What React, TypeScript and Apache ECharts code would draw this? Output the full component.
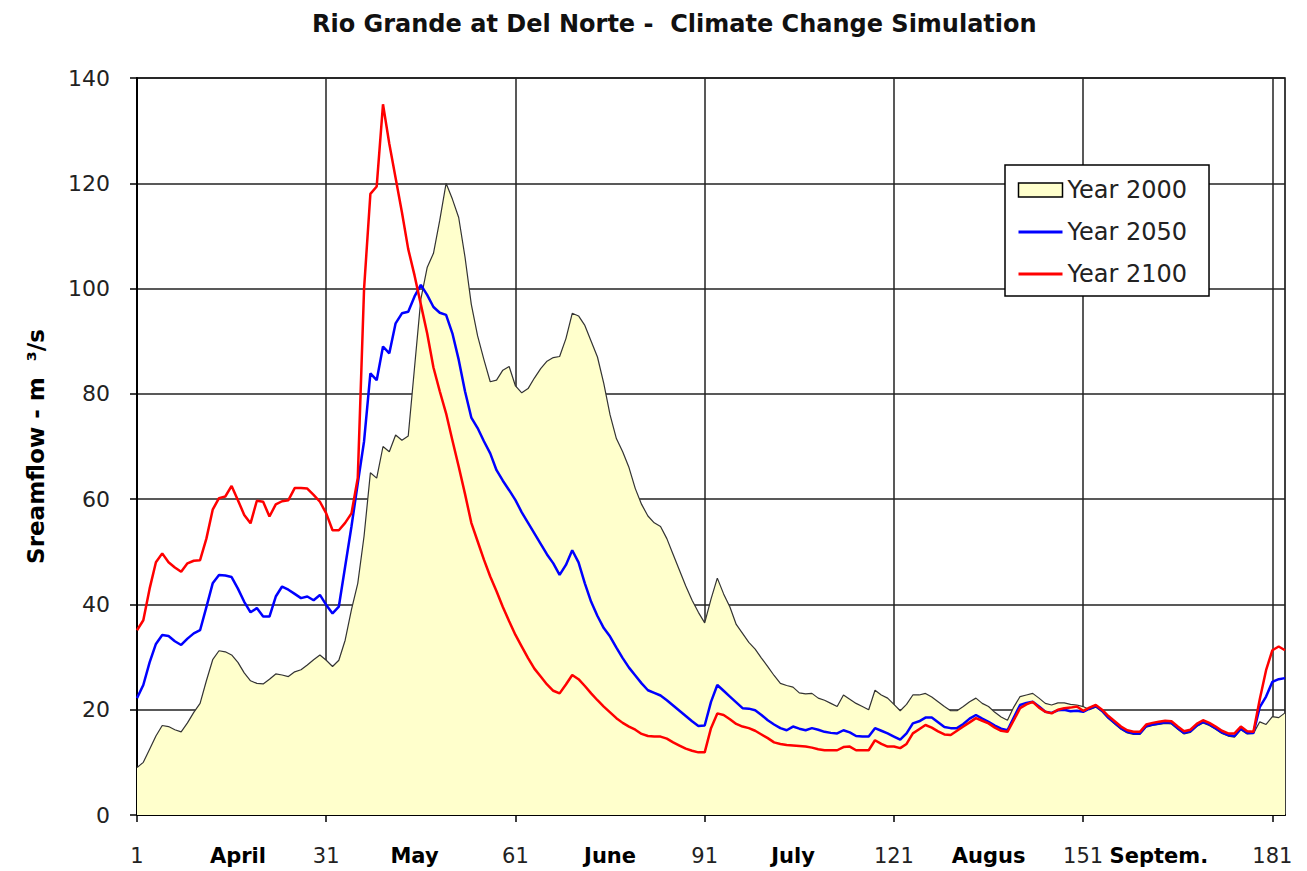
import React, { useEffect, useRef } from "react";
import * as echarts from "echarts";

const days: string[] = Array.from({ length: 183 }, (_, i) => String(i + 1));

const tickDays = [1, 31, 61, 91, 121, 151, 181];
const monthNames = ["April", "May", "June", "July", "Augus", "Septem."];
const monthDays = [17, 45, 76, 105, 136, 163];
const yTicks = { min: 0, max: 140, interval: 20 };

const year2000 = [
  9.0, 10.0, 12.5, 15.0, 17.0, 16.8, 16.2, 15.8, 17.5, 19.5,
  21.2, 25.5, 29.5, 31.2, 31.0, 30.4, 29.0, 27.0, 25.5, 25.0,
  24.9, 25.8, 26.8, 26.6, 26.3, 27.2, 27.6, 28.5, 29.5, 30.4,
  29.4, 28.2, 29.4, 33.2, 39.0, 44.0, 53.0, 65.0, 64.0, 70.0,
  69.0, 72.2, 71.2, 72.0, 85.0, 98.0, 104.0, 106.7, 113.0, 120.0,
  117.0, 113.5, 106.0, 97.0, 91.0, 86.5, 82.3, 82.6, 84.5, 85.2,
  81.5, 80.2, 81.0, 83.0, 84.8, 86.2, 86.9, 87.1, 90.5, 95.3,
  94.8, 93.0, 90.0, 87.0, 82.0, 76.0, 71.5, 69.0, 66.0, 62.0,
  59.0, 56.8, 55.5, 54.8, 52.5, 49.5, 46.5, 43.5, 40.8, 38.5,
  36.5, 41.0, 45.0, 42.0, 39.5, 36.2, 34.5, 32.8, 31.5, 29.8,
  28.2, 26.5, 25.0, 24.6, 24.3, 23.2, 23.0, 23.1, 22.2, 21.8,
  21.2, 20.6, 22.8, 22.0, 21.2, 20.6, 20.0, 23.7, 22.8, 22.2,
  21.0, 19.8, 21.0, 22.8, 22.8, 23.1, 22.4, 21.5, 20.6, 19.8,
  19.8, 20.6, 21.5, 22.2, 21.2, 20.6, 19.5, 18.6, 18.0, 20.5,
  22.5, 22.8, 23.1, 22.2, 21.2, 20.9, 21.3, 21.3, 21.0, 20.9,
  20.6, 20.0, 20.5, 19.6, 18.3, 17.3, 16.3, 15.6, 15.3, 15.3,
  16.7, 17.0, 17.2, 17.4, 17.3, 16.3, 15.4, 15.7, 16.8, 17.5,
  17.0, 16.3, 15.5, 15.0, 14.8, 16.2, 15.4, 15.5, 17.7, 17.2,
  18.7, 18.5, 19.4,
];

const year2050 = [
  22.2, 24.7, 29.0, 32.5, 34.2, 34.0, 33.0, 32.3, 33.5, 34.5,
  35.1, 39.5, 44.0, 45.6, 45.5, 45.2, 43.0, 40.5, 38.5, 39.3,
  37.7, 37.7, 41.5, 43.4, 42.8, 42.0, 41.2, 41.5, 40.8, 41.8,
  39.9, 38.3, 39.6, 47.2, 54.8, 63.0, 71.0, 83.9, 82.6, 89.0,
  87.7, 93.4, 95.3, 95.6, 98.5, 100.7, 98.8, 96.5, 95.4, 95.0,
  91.5, 86.5, 80.5, 75.5, 73.5, 71.0, 68.7, 65.5, 63.5, 61.7,
  59.8, 57.5, 55.5, 53.5, 51.5, 49.5, 47.8, 45.6, 47.5, 50.3,
  48.0, 44.0, 40.5, 37.8, 35.5, 33.9, 31.8, 29.8, 28.0, 26.5,
  25.0, 23.7, 23.2, 22.7, 21.8, 20.8, 19.8, 18.8, 17.8, 16.9,
  17.0, 21.5, 24.7, 23.6, 22.5, 21.4, 20.3, 20.2, 19.9, 19.0,
  18.0, 17.2, 16.5, 16.1, 16.8, 16.4, 16.1, 16.5, 16.2, 15.8,
  15.6, 15.5, 16.1, 15.7, 15.0, 14.9, 14.9, 16.5, 16.0, 15.5,
  14.9, 14.3, 15.5, 17.4, 17.8, 18.5, 18.5, 17.6, 16.7, 16.5,
  16.5, 17.3, 18.3, 19.0, 18.3, 17.7, 17.0, 16.4, 16.1, 18.5,
  20.9, 21.3, 21.5, 20.6, 19.6, 19.4, 19.9, 20.0, 19.7, 19.8,
  19.6, 20.2, 20.7, 19.8, 18.5, 17.5, 16.5, 15.8, 15.5, 15.5,
  16.9, 17.2, 17.4, 17.6, 17.5, 16.5, 15.6, 15.9, 17.0, 17.7,
  17.2, 16.5, 15.7, 15.2, 15.0, 16.4, 15.6, 15.6, 20.5, 22.5,
  25.3, 25.8, 26.0,
];

const year2100 = [
  35.1, 37.0, 43.0, 48.0, 49.7, 48.0, 47.0, 46.2, 47.8, 48.3,
  48.4, 52.5, 58.0, 60.2, 60.5, 62.5, 59.8, 57.0, 55.4, 59.7,
  59.5, 56.7, 59.0, 59.6, 59.8, 62.1, 62.1, 62.0, 60.8, 59.5,
  57.3, 54.1, 54.1, 55.5, 57.3, 64.0, 100.0, 118.0, 119.4, 135.0,
  127.5, 121.0, 114.5, 107.5, 102.5, 97.0, 91.5, 85.0, 80.5, 76.3,
  71.2, 66.2, 61.0, 55.5, 52.0, 48.5, 45.3, 42.5, 39.5, 36.8,
  34.2, 32.0, 29.8, 27.8, 26.3, 24.8, 23.6, 23.1, 24.8, 26.6,
  25.8, 24.5, 23.1, 21.8, 20.6, 19.5, 18.4, 17.5, 16.8, 16.2,
  15.4, 15.0, 14.9, 14.9, 14.5, 13.8, 13.2, 12.6, 12.2, 11.9,
  11.9, 16.5, 19.3, 19.0, 18.2, 17.3, 16.8, 16.5, 16.0, 15.3,
  14.6, 13.8, 13.5, 13.3, 13.2, 13.1, 13.0, 12.8, 12.5, 12.3,
  12.3, 12.3, 12.9, 13.0, 12.3, 12.3, 12.3, 14.2, 13.5, 13.0,
  13.0, 12.7, 13.5, 15.5, 16.3, 17.1, 16.6, 15.9, 15.3, 15.2,
  16.0, 16.8, 17.6, 18.4, 17.9, 17.4, 16.6, 16.0, 15.8, 18.0,
  20.3, 21.0, 21.5, 20.4, 19.6, 19.3, 20.0, 20.3, 20.4, 20.6,
  19.8, 20.4, 20.9, 20.0, 18.8, 17.8, 16.8, 16.1, 15.8, 15.8,
  17.2, 17.5, 17.7, 17.9, 17.8, 16.8, 15.9, 16.2, 17.3, 18.0,
  17.5, 16.8, 16.0, 15.5, 15.5, 16.8, 15.9, 15.8, 22.0, 27.5,
  31.3, 32.0, 31.3,
];

const FONT = "DejaVu Sans";

export default function App() {
  const ref = useRef<HTMLDivElement>(null);

  useEffect(() => {
    if (!ref.current) return;
    const chart = echarts.init(ref.current, null, { renderer: "svg" });
    const isTick = (v: any) => tickDays.includes(Number(v));
    const isMonth = (v: any) => monthDays.includes(Number(v));

    chart.setOption({
      animation: false,
      backgroundColor: "#ffffff",
      title: {
        text: "Rio Grande at Del Norte -  Climate Change Simulation",
        left: 307,
        top: 7,
        textStyle: { fontFamily: FONT, fontSize: 24, fontWeight: "bold", color: "#111" },
      },
      legend: {
        orient: "vertical",
        left: 1005,
        top: 165,
        padding: [13, 22, 10, 12],
        itemGap: 18,
        itemWidth: 44,
        itemHeight: 14,
        backgroundColor: "#ffffff",
        borderColor: "#000",
        borderWidth: 1.5,
        borderRadius: 0,
        textStyle: { fontFamily: FONT, fontSize: 24, color: "#222" },
        data: [
          {
            name: "Year 2000",
            icon: "rect",
            itemStyle: { color: "#ffffcc", borderColor: "#000", borderWidth: 1.5 },
          },
          { name: "Year 2050", itemStyle: { opacity: 0 }, lineStyle: { width: 3 } },
          { name: "Year 2100", itemStyle: { opacity: 0 }, lineStyle: { width: 3 } },
        ],
      },
      grid: {
        left: 137,
        right: 22,
        top: 78,
        bottom: 56,
        show: true,
        borderColor: "#000",
        borderWidth: 1.5,
        backgroundColor: "#ffffff",
      },
      xAxis: {
        type: "category",
        data: days,
        boundaryGap: false,
        axisLine: { show: true, lineStyle: { color: "#000", width: 2 } },
        axisTick: {
          show: true,
          length: 7,
          interval: (_i: number, v: any) => isTick(v),
          lineStyle: { color: "#000", width: 1.5 },
        },
        splitLine: {
          show: true,
          interval: (_i: number, v: any) => isTick(v),
          lineStyle: { color: "#222", width: 1.5 },
        },
        axisLabel: {
          margin: 30,
          interval: (_i: number, v: any) => isTick(v) || isMonth(v),
          formatter: (v: any) => {
            if (isTick(v)) return `{n|${v}}`;
            return `{m|${monthNames[monthDays.indexOf(Number(v))]}}`;
          },
          rich: {
            n: { fontFamily: FONT, fontSize: 21, color: "#222" },
            m: { fontFamily: FONT, fontSize: 21, fontWeight: "bold", color: "#000" },
          },
        },
      },
      yAxis: {
        type: "value",
        min: yTicks.min,
        max: yTicks.max,
        interval: yTicks.interval,
        name: "Sreamflow - m  ³/s",
        nameLocation: "middle",
        nameGap: 90,
        nameTextStyle: { fontFamily: FONT, fontSize: 23, fontWeight: "bold", color: "#000" },
        axisLine: { show: true, lineStyle: { color: "#000", width: 2 } },
        axisTick: { show: true, length: 7, lineStyle: { color: "#000", width: 1.5 } },
        splitLine: { show: true, lineStyle: { color: "#222", width: 1.5 } },
        axisLabel: { margin: 27, fontFamily: FONT, fontSize: 22, color: "#222" },
      },
      series: [
        {
          name: "Year 2000",
          type: "line",
          data: year2000,
          symbol: "none",
          showSymbol: false,
          lineStyle: { color: "#333", width: 1.2 },
          itemStyle: { color: "#ffffcc" },
          areaStyle: { color: "#ffffcc", opacity: 1 },
        },
        {
          name: "Year 2050",
          type: "line",
          data: year2050,
          symbol: "none",
          showSymbol: false,
          lineStyle: { color: "#0000ff", width: 2.5 },
          itemStyle: { color: "#0000ff" },
        },
        {
          name: "Year 2100",
          type: "line",
          data: year2100,
          symbol: "none",
          showSymbol: false,
          lineStyle: { color: "#ff0000", width: 2.5 },
          itemStyle: { color: "#ff0000" },
        },
      ],
    });
    return () => chart.dispose();
  }, []);

  return (
    <div
      ref={ref}
      style={{ position: "absolute", left: 0, top: 0, width: 1307, height: 871 }}
    />
  );
}
